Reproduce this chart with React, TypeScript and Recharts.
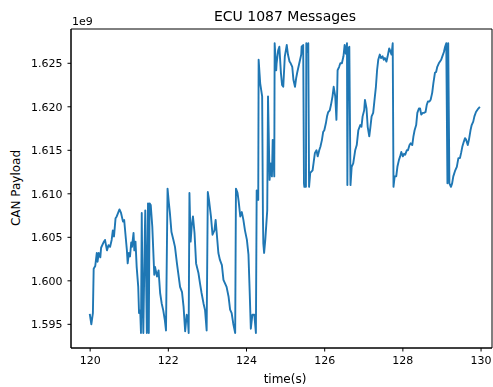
import { LineChart, Line, XAxis, YAxis, ReferenceArea } from "recharts";

// time stamps (s) and payload values (x1e9)
const times = [
  119.99, 120.03, 120.07, 120.09, 120.13, 120.17, 120.19, 120.22, 120.26, 120.28,
  120.34, 120.38, 120.43, 120.47, 120.51, 120.55, 120.58, 120.61, 120.65, 120.68,
  120.75, 120.79, 120.84, 120.87, 120.9, 120.94, 120.96, 120.99, 121.02, 121.05,
  121.07, 121.11, 121.13, 121.16, 121.19, 121.23, 121.25, 121.28, 121.3, 121.32,
  121.34, 121.36, 121.4, 121.41, 121.45, 121.48, 121.5, 121.52, 121.55, 121.59,
  121.64, 121.66, 121.71, 121.75, 121.79, 121.83, 121.87, 121.91, 121.94, 121.98,
  122.01, 122.04, 122.08, 122.13, 122.17, 122.22, 122.3, 122.35, 122.39, 122.43,
  122.47, 122.5, 122.52, 122.54, 122.57, 122.6, 122.63, 122.67, 122.71, 122.77,
  122.81, 122.85, 122.9, 122.94, 122.98, 123.01, 123.04, 123.09, 123.13, 123.18,
  123.21, 123.28, 123.32, 123.37, 123.41, 123.45, 123.49, 123.54, 123.58, 123.62,
  123.66, 123.71, 123.73, 123.77, 123.8, 123.84, 123.88, 123.92, 123.96, 124.01,
  124.05, 124.08, 124.11, 124.15, 124.2, 124.24, 124.26, 124.3, 124.31, 124.35,
  124.4, 124.42, 124.43, 124.45, 124.48, 124.52, 124.53, 124.55, 124.59, 124.62,
  124.65, 124.67, 124.71, 124.72, 124.76, 124.77, 124.81, 124.84, 124.88, 124.91,
  124.94, 124.98, 125.03, 125.06, 125.1, 125.13, 125.17, 125.2, 125.24, 125.27,
  125.3, 125.35, 125.4, 125.41, 125.45, 125.47, 125.48, 125.52, 125.53, 125.55,
  125.58, 125.6, 125.63, 125.69, 125.72, 125.75, 125.79, 125.82, 125.86, 125.89,
  125.93, 125.96, 125.99, 126.03, 126.06, 126.09, 126.13, 126.16, 126.2, 126.23,
  126.27, 126.3, 126.32, 126.33, 126.37, 126.4, 126.44, 126.48, 126.51, 126.54,
  126.57, 126.58, 126.6, 126.63, 126.66, 126.69, 126.73, 126.78, 126.82, 126.86,
  126.91, 126.94, 126.97, 127.01, 127.03, 127.07, 127.1, 127.14, 127.17, 127.2,
  127.24, 127.27, 127.31, 127.34, 127.37, 127.41, 127.44, 127.48, 127.51, 127.54,
  127.58, 127.61, 127.65, 127.67, 127.71, 127.74, 127.76, 127.79, 127.83, 127.86,
  127.9, 127.93, 127.96, 128.0, 128.03, 128.06, 128.1, 128.13, 128.17, 128.2,
  128.24, 128.27, 128.3, 128.34, 128.37, 128.41, 128.44, 128.47, 128.51, 128.54,
  128.58, 128.61, 128.64, 128.68, 128.71, 128.75, 128.78, 128.82, 128.85, 128.88,
  128.92, 128.98, 129.01, 129.05, 129.08, 129.11, 129.14, 129.16, 129.19, 129.23,
  129.26, 129.29, 129.34, 129.38, 129.42, 129.46, 129.49, 129.52, 129.56, 129.59,
  129.62, 129.66, 129.69, 129.73, 129.76, 129.8, 129.83, 129.87, 129.9, 129.93,
  129.97,
];

const payloadE9 = [
  1.5962, 1.595, 1.5963, 1.6014, 1.6017, 1.6032, 1.6022, 1.6032, 1.6027, 1.6038,
  1.6044, 1.6047, 1.6035, 1.6041, 1.6039, 1.6047, 1.6058, 1.6051, 1.6072, 1.6074,
  1.6082, 1.6078, 1.6068, 1.607, 1.6055, 1.6035, 1.602, 1.6032, 1.6028, 1.6044,
  1.6039, 1.6055, 1.6035, 1.6045, 1.6016, 1.5993, 1.5963, 1.5966, 1.594, 1.6078,
  1.5982, 1.594, 1.6058, 1.6081, 1.594, 1.6089, 1.594, 1.6089, 1.6087, 1.6062,
  1.6007, 1.6016, 1.6005, 1.6012, 1.5986, 1.5974, 1.5966, 1.5955, 1.5943, 1.6106,
  1.6091, 1.6078, 1.6056, 1.6047, 1.6039, 1.602, 1.5993, 1.5987, 1.597, 1.5942,
  1.5961, 1.5955, 1.594, 1.6101, 1.6045, 1.6064, 1.6074, 1.6055, 1.602, 1.6009,
  1.5997, 1.5986, 1.5974, 1.5966, 1.5943, 1.6102, 1.6093, 1.6074, 1.6053, 1.6058,
  1.607, 1.6032, 1.6024, 1.6018, 1.6001, 1.5997, 1.5993, 1.5982, 1.5967, 1.5963,
  1.5951, 1.594, 1.6106, 1.6101, 1.6091, 1.6074, 1.6079, 1.607, 1.6058, 1.6047,
  1.603, 1.5989, 1.5945, 1.5961, 1.5961, 1.594, 1.6104, 1.6093, 1.6254, 1.6227,
  1.6212, 1.6074, 1.6043, 1.6032, 1.6047, 1.6074, 1.6081, 1.6212, 1.6116, 1.6135,
  1.612, 1.6162, 1.612, 1.6273, 1.6242, 1.625, 1.6265, 1.6269, 1.6239, 1.6225,
  1.6223, 1.6258, 1.6271, 1.626, 1.6252, 1.625, 1.6246, 1.6231, 1.6223, 1.6233,
  1.624, 1.625, 1.626, 1.6269, 1.6271, 1.6112, 1.6108, 1.6108, 1.6273, 1.6263,
  1.6273, 1.6108, 1.6124, 1.6127, 1.6137, 1.6147, 1.615, 1.6143, 1.615, 1.6154,
  1.6162, 1.6171, 1.6173, 1.6181, 1.6189, 1.6194, 1.6196, 1.6202, 1.6212, 1.6223,
  1.6212, 1.6185, 1.6219, 1.6242, 1.6246, 1.625, 1.625, 1.6258, 1.6271, 1.6261,
  1.6273, 1.611, 1.6267, 1.6269, 1.611, 1.6131, 1.6135, 1.615, 1.6156, 1.6173,
  1.6179, 1.6177, 1.6189, 1.6196, 1.6208, 1.6198, 1.6177, 1.6166, 1.6177, 1.6189,
  1.6193, 1.6206, 1.6223, 1.6242, 1.6254, 1.626, 1.6256, 1.6258, 1.6254, 1.6256,
  1.6252, 1.6258, 1.6267, 1.6265, 1.626, 1.6273, 1.6108, 1.612, 1.612, 1.6131,
  1.6139, 1.6143, 1.6148, 1.6143, 1.6146, 1.6145, 1.615, 1.615, 1.6156, 1.6158,
  1.6156, 1.6166, 1.6173, 1.6179, 1.6193, 1.6198, 1.6198, 1.6191, 1.6193, 1.6193,
  1.6194, 1.6202, 1.6206, 1.6206, 1.6208, 1.6216, 1.6227, 1.6239, 1.624, 1.6246,
  1.625, 1.6254, 1.6258, 1.6263, 1.6269, 1.6273, 1.6112, 1.6273, 1.6112, 1.6108,
  1.6112, 1.612, 1.6127, 1.6131, 1.6141, 1.6141, 1.6147, 1.6154, 1.616, 1.6164,
  1.6162, 1.6156, 1.6162, 1.6173, 1.6179, 1.6183, 1.6189, 1.6194, 1.6196, 1.6198,
  1.62,
];

const timeTicks = [120, 122, 124, 126, 128, 130];
const payloadTicks = [1.595, 1.6, 1.605, 1.61, 1.615, 1.62, 1.625];

const xDomain: [number, number] = [119.51, 130.28];
const yDomain: [number, number] = [1.59228, 1.62894];

const data = times.map((t, i) => ({ t, v: payloadE9[i] }));

const font = "'DejaVu Sans', sans-serif";
const tickStyle = { fontSize: 11, fill: "#000", fontFamily: font };

export default function App() {
  return (
    <div
      style={{
        position: "fixed",
        left: 0,
        top: 0,
        width: 493,
        height: 387,
        background: "#fff",
        fontFamily: font,
        color: "#000",
      }}
    >
      <div style={{ position: "absolute", left: 0, width: 570, top: 8.5, textAlign: "center", fontSize: 14, lineHeight: 1 }}>
        ECU 1087 Messages
      </div>
      <div style={{ position: "absolute", left: 72, top: 15.7, fontSize: 11, lineHeight: 1 }}>1e9</div>
      <div style={{ position: "absolute", left: 0, width: 570, top: 373, textAlign: "center", fontSize: 12, lineHeight: 1 }}>
        time(s)
      </div>
      <div
        style={{
          position: "absolute",
          left: 16,
          top: 188,
          fontSize: 12,
          lineHeight: 1,
          whiteSpace: "nowrap",
          transform: "translate(-50%, -50%) rotate(-90deg)",
        }}
      >
        CAN Payload
      </div>
      <LineChart width={493} height={387} data={data} margin={{ top: 29, right: 1, bottom: 0, left: 0 }}>
        <XAxis
          dataKey="t"
          type="number"
          domain={xDomain}
          allowDataOverflow
          ticks={timeTicks}
          tickFormatter={(v: number) => String(v)}
          height={39}
          tickSize={3.5}
          tickMargin={5}
          stroke="#000"
          tick={tickStyle}
        />
        <YAxis
          dataKey="v"
          type="number"
          domain={yDomain}
          allowDataOverflow
          ticks={payloadTicks}
          tickFormatter={(v: number) => v.toFixed(3)}
          width={71}
          tickSize={3.5}
          tickMargin={5}
          stroke="#000"
          tick={tickStyle}
        />
        <ReferenceArea
          x1={xDomain[0]}
          x2={xDomain[1]}
          y1={yDomain[0]}
          y2={yDomain[1]}
          fill="none"
          stroke="#000"
          strokeWidth={1}
        />
        <Line
          dataKey="v"
          type="linear"
          stroke="#1f77b4"
          strokeWidth={1.9}
          strokeLinejoin="round"
          dot={false}
          isAnimationActive={false}
        />
      </LineChart>
    </div>
  );
}
